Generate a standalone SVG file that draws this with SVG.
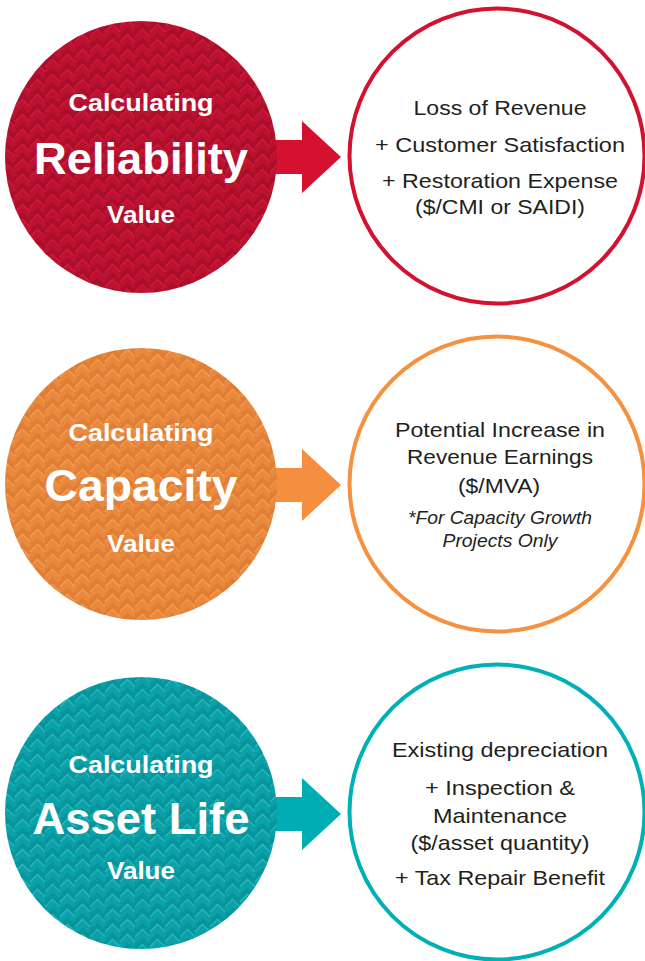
<svg xmlns="http://www.w3.org/2000/svg" width="645" height="961" viewBox="0 0 645 961">
  <style>
    .lbl-sm { font-family: "Liberation Sans", Arial, sans-serif; font-weight: bold; fill: #ffffff; text-anchor: middle; font-size: 23px; }
    .lbl-lg { font-family: "Liberation Sans", Arial, sans-serif; font-weight: bold; fill: #ffffff; text-anchor: middle; font-size: 44px; }
    .body { font-family: "Liberation Sans", Arial, sans-serif; fill: #231f20; text-anchor: middle; font-size: 21px; }
    .note { font-family: "Liberation Sans", Arial, sans-serif; font-style: italic; fill: #231f20; text-anchor: middle; font-size: 17.5px; }
    .ring { fill: #ffffff; stroke-width: 4; }
    .band { fill: none; stroke-width: 4; }
    .thin { fill: none; stroke-width: 1; }
  </style>
  <defs>
    <!-- one column of stacked chevrons, repeated above and below for wrap-around -->
    <g id="chev-col-band">
      <path class="band" d="M0,-3 L6,-9 L12,-3 M0,9 L6,3 L12,9 M0,21 L6,15 L12,21"/>
    </g>
    <g id="chev-col-line">
      <path class="thin" d="M0,-6.5 L6,-12.5 L12,-6.5 M0,5.5 L6,-0.5 L12,5.5 M0,17.5 L6,11.5 L12,17.5"/>
    </g>
    <!-- three columns stepped down so the chevrons line up on diagonals -->
    <g id="chev-tile-band">
      <use href="#chev-col-band"/>
      <use href="#chev-col-band" x="12" y="8"/>
      <use href="#chev-col-band" x="24" y="4"/>
      <use href="#chev-col-band" x="24" y="-8"/>
    </g>
    <g id="chev-tile-line">
      <use href="#chev-col-line"/>
      <use href="#chev-col-line" x="12" y="8"/>
      <use href="#chev-col-line" x="12" y="-4"/>
      <use href="#chev-col-line" x="24" y="4"/>
      <use href="#chev-col-line" x="24" y="-8"/>
    </g>
    <pattern id="chev-red" width="36" height="12" patternUnits="userSpaceOnUse" patternTransform="scale(1.25)">
      <rect width="36" height="12" fill="#a90f2a"/>
      <use href="#chev-tile-band" stroke="#bb1230"/>
      <use href="#chev-tile-line" stroke="#d2173a"/>
    </pattern>
    <pattern id="chev-orange" width="36" height="12" patternUnits="userSpaceOnUse" patternTransform="scale(1.25)">
      <rect width="36" height="12" fill="#e07e36"/>
      <use href="#chev-tile-band" stroke="#e8893e"/>
      <use href="#chev-tile-line" stroke="#f49a4c"/>
    </pattern>
    <pattern id="chev-teal" width="36" height="12" patternUnits="userSpaceOnUse" patternTransform="scale(1.25)">
      <rect width="36" height="12" fill="#06959d"/>
      <use href="#chev-tile-band" stroke="#0ba1a9"/>
      <use href="#chev-tile-line" stroke="#27b4bb"/>
    </pattern>
  </defs>

  <rect width="645" height="961" fill="#ffffff"/>

  <!-- block arrows from each value circle to its detail circle -->
  <g id="connectors">
    <path id="arrow-reliability" d="M262,140 H302 V121 L341,157 L302,193 V174 H262 Z" fill="#d5112f"/>
    <path id="arrow-capacity" d="M262,468 H302 V449 L341,485 L302,521 V502 H262 Z" fill="#f58f3f"/>
    <path id="arrow-assetlife" d="M262,797 H302 V778 L341,814 L302,850 V831 H262 Z" fill="#00adb5"/>
  </g>

  <g id="node-reliability">
    <circle cx="141" cy="157" r="136" fill="url(#chev-red)"/>
    <text class="lbl-sm" x="141" y="111" textLength="145" lengthAdjust="spacingAndGlyphs">Calculating</text>
    <text class="lbl-lg" x="141" y="174" textLength="214" lengthAdjust="spacingAndGlyphs">Reliability</text>
    <text class="lbl-sm" x="141" y="223" textLength="68" lengthAdjust="spacingAndGlyphs">Value</text>
  </g>

  <g id="node-reliability-detail">
    <circle class="ring" cx="497" cy="156" r="147.5" stroke="#d3122f"/>
    <text class="body" x="500" y="115" textLength="173" lengthAdjust="spacingAndGlyphs">Loss of Revenue</text>
    <text class="body" x="500" y="152" textLength="250" lengthAdjust="spacingAndGlyphs">+ Customer Satisfaction</text>
    <text class="body" x="500" y="188" textLength="236" lengthAdjust="spacingAndGlyphs">+ Restoration Expense</text>
    <text class="body" x="500" y="214" textLength="170" lengthAdjust="spacingAndGlyphs">($/CMI or SAIDI)</text>
  </g>

  <g id="node-capacity">
    <circle cx="141" cy="484" r="136" fill="url(#chev-orange)"/>
    <text class="lbl-sm" x="141" y="441" textLength="145" lengthAdjust="spacingAndGlyphs">Calculating</text>
    <text class="lbl-lg" x="141" y="501" textLength="193" lengthAdjust="spacingAndGlyphs">Capacity</text>
    <text class="lbl-sm" x="141" y="552" textLength="68" lengthAdjust="spacingAndGlyphs">Value</text>
  </g>

  <g id="node-capacity-detail">
    <circle class="ring" cx="497" cy="484" r="147.5" stroke="#f5913f"/>
    <text class="body" x="500" y="437" textLength="210" lengthAdjust="spacingAndGlyphs">Potential Increase in</text>
    <text class="body" x="500" y="464" textLength="186" lengthAdjust="spacingAndGlyphs">Revenue Earnings</text>
    <text class="body" x="499" y="493" textLength="82" lengthAdjust="spacingAndGlyphs">($/MVA)</text>
    <text class="note" x="500" y="524" textLength="184" lengthAdjust="spacingAndGlyphs">*For Capacity Growth</text>
    <text class="note" x="500" y="547" textLength="115" lengthAdjust="spacingAndGlyphs">Projects Only</text>
  </g>

  <g id="node-assetlife">
    <circle cx="141" cy="813" r="136" fill="url(#chev-teal)"/>
    <text class="lbl-sm" x="141" y="773" textLength="145" lengthAdjust="spacingAndGlyphs">Calculating</text>
    <text class="lbl-lg" x="141" y="834" textLength="217" lengthAdjust="spacingAndGlyphs">Asset Life</text>
    <text class="lbl-sm" x="141" y="879" textLength="68" lengthAdjust="spacingAndGlyphs">Value</text>
  </g>

  <g id="node-assetlife-detail">
    <circle class="ring" cx="497" cy="812" r="147.5" stroke="#00b0b8"/>
    <text class="body" x="500" y="757" textLength="216" lengthAdjust="spacingAndGlyphs">Existing depreciation</text>
    <text class="body" x="500" y="795" textLength="150" lengthAdjust="spacingAndGlyphs">+ Inspection &amp;</text>
    <text class="body" x="500" y="823" textLength="134" lengthAdjust="spacingAndGlyphs">Maintenance</text>
    <text class="body" x="500" y="850" textLength="179" lengthAdjust="spacingAndGlyphs">($/asset quantity)</text>
    <text class="body" x="500" y="885" textLength="210" lengthAdjust="spacingAndGlyphs">+ Tax Repair Benefit</text>
  </g>
</svg>
